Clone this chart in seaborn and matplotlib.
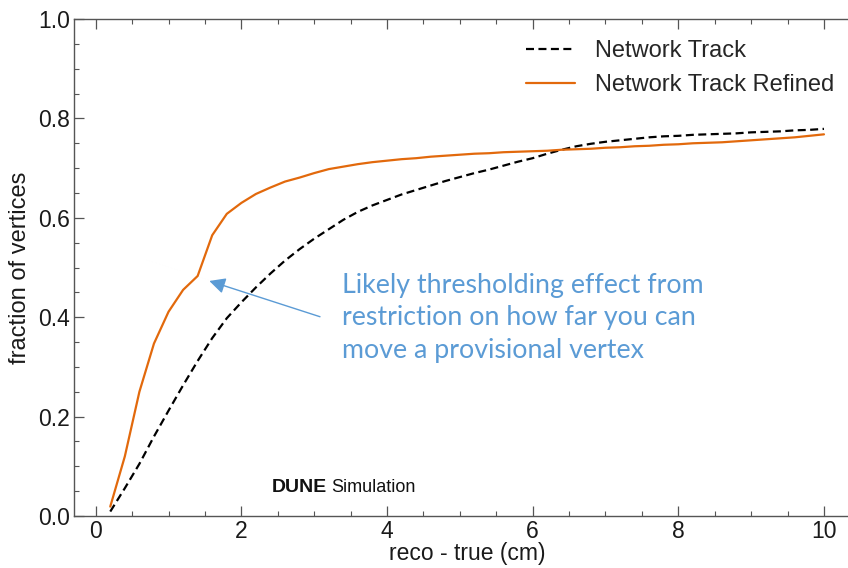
import numpy as np
import pandas as pd
import matplotlib
matplotlib.use("Agg")
import matplotlib.pyplot as plt
from matplotlib.ticker import MultipleLocator, FormatStrFormatter
import seaborn as sns

# Vertex resolution: cumulative fraction of vertices within a reco-true distance
distance_cm = [0.2, 0.4, 0.6, 0.8, 1.0, 1.2, 1.4, 1.6, 1.8, 2.0,
               2.2, 2.4, 2.6, 2.8, 3.0, 3.2, 3.4, 3.6, 3.8, 4.0,
               4.2, 4.4, 4.6, 4.8, 5.0, 5.2, 5.4, 5.6, 5.8, 6.0,
               6.2, 6.4, 6.6, 6.8, 7.0, 7.2, 7.4, 7.6, 7.8, 8.0,
               8.2, 8.4, 8.6, 8.8, 9.0, 9.2, 9.4, 9.6, 9.8, 10.0]
network_track = [0.009, 0.056, 0.105, 0.160, 0.212, 0.263, 0.312, 0.358, 0.398, 0.430,
                 0.460, 0.488, 0.514, 0.537, 0.558, 0.577, 0.596, 0.612, 0.625, 0.636,
                 0.647, 0.656, 0.665, 0.674, 0.682, 0.690, 0.697, 0.705, 0.713, 0.720,
                 0.729, 0.737, 0.744, 0.749, 0.753, 0.756, 0.759, 0.762, 0.764, 0.765,
                 0.767, 0.768, 0.769, 0.770, 0.772, 0.773, 0.774, 0.776, 0.777, 0.779]
network_track_refined = [0.019, 0.120, 0.250, 0.347, 0.411, 0.455, 0.483, 0.565, 0.608, 0.630,
                         0.648, 0.661, 0.673, 0.681, 0.690, 0.698, 0.703, 0.708, 0.712, 0.715,
                         0.718, 0.720, 0.723, 0.725, 0.727, 0.729, 0.730, 0.732, 0.733, 0.734,
                         0.735, 0.737, 0.738, 0.739, 0.741, 0.742, 0.744, 0.745, 0.747, 0.748,
                         0.750, 0.751, 0.752, 0.754, 0.756, 0.758, 0.760, 0.762, 0.765, 0.768]
series_names = ["Network Track", "Network Track Refined"]

df = pd.concat([
    pd.DataFrame({"x": distance_cm, "y": network_track, "series": series_names[0]}),
    pd.DataFrame({"x": distance_cm, "y": network_track_refined, "series": series_names[1]}),
])

sns.set_style("ticks")
plt.rcParams["font.family"] = ["Liberation Sans", "DejaVu Sans"]

fig = plt.figure(figsize=(8.48, 5.68), dpi=100)
ax = fig.add_axes([0.0876, 0.0915, 0.9124, 0.875])

sns.lineplot(data=df, x="x", y="y", hue="series", style="series",
             palette={series_names[0]: "black", series_names[1]: "#E2690C"},
             dashes={series_names[0]: (3.6, 2.0), series_names[1]: ""},
             linewidth=1.6, ax=ax, sort=False, estimator=None)

ax.set_xlim(-0.294, 10.33)
ax.set_ylim(0.0, 1.0)
ax.xaxis.set_major_locator(MultipleLocator(2))
ax.xaxis.set_minor_locator(MultipleLocator(0.5))
ax.yaxis.set_major_locator(MultipleLocator(0.2))
ax.yaxis.set_minor_locator(MultipleLocator(0.05))
ax.yaxis.set_major_formatter(FormatStrFormatter("%.1f"))

ax.tick_params(axis="both", which="both", direction="in", top=True, right=False,
               colors="#555555", labelcolor="#1a1a1a", labelsize=16.5)
ax.tick_params(which="major", length=7, width=0.9)
ax.tick_params(which="minor", length=3.5, width=0.8)
ax.tick_params(axis="x", pad=3)
ax.tick_params(axis="y", pad=3)

for side in ["left", "bottom", "top"]:
    ax.spines[side].set_color("#555555")
    ax.spines[side].set_linewidth(1.0)
ax.spines["right"].set_visible(False)

ax.set_xlabel("reco - true (cm)", fontsize=16.5, color="#1a1a1a")
ax.xaxis.set_label_coords(0.5076, -0.052)
ax.set_ylabel("fraction of vertices", fontsize=17, color="#1a1a1a", labelpad=5)

leg = ax.legend(loc="upper right", bbox_to_anchor=(0.994, 0.977), frameon=False,
                borderaxespad=0, fontsize=17, handlelength=2.05,
                handletextpad=0.85, labelspacing=0.52, title=None)

dune = ax.text(2.42, 0.049, "DUNE", fontsize=14, fontweight="bold", color="#111111",
               ha="left", va="baseline")
ax.annotate("Simulation", xy=(1, 0), xycoords=dune, xytext=(3, 0),
            textcoords="offset points", fontsize=13, color="#111111",
            ha="left", va="bottom")

ax.annotate("", xy=(1.56, 0.473), xytext=(3.08, 0.401),
            arrowprops=dict(arrowstyle="-|>", color="#5B9BD5", lw=1.0,
                            mutation_scale=24, shrinkA=0, shrinkB=0))
ax.text(3.38, 0.489, "Likely thresholding effect from\nrestriction on how far you can\nmove a provisional vertex",
        fontsize=19.3, color="#5B9BD5", family=["Lato", "DejaVu Sans"],
        ha="left", va="top", linespacing=1.37)

fig.savefig("out.png", dpi=100)
